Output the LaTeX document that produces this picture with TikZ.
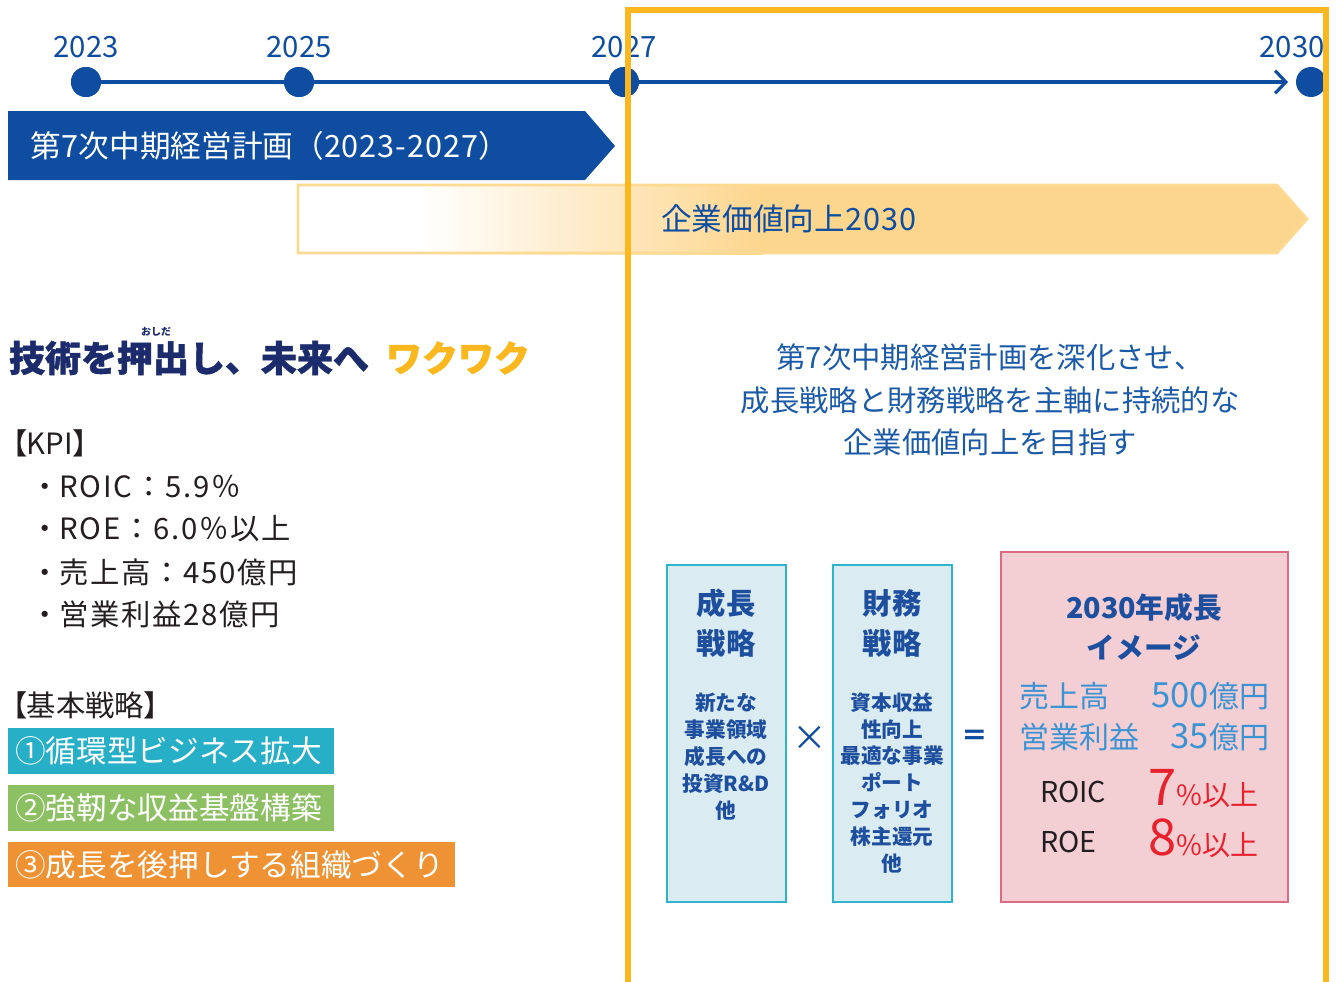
\documentclass[tikz,border=0pt]{standalone}
\usepackage{fontspec}
\setmainfont{Noto Sans CJK JP}
\usetikzlibrary{arrows.meta}
\definecolor{navy}{HTML}{0E4DA0}
\definecolor{framegold}{HTML}{FBB81E}
\definecolor{bgold}{HTML}{FDD68E}
\definecolor{bbord}{HTML}{FDDA92}
\definecolor{headnavy}{HTML}{1B2B6B}
\definecolor{txtgray}{HTML}{231F20}
\definecolor{pblue}{HTML}{1B5AA7}
\definecolor{stteal}{HTML}{27AFC7}
\definecolor{stgreen}{HTML}{8CC063}
\definecolor{storange}{HTML}{EE9234}
\definecolor{lbfill}{HTML}{DAEBF1}
\definecolor{lbbord}{HTML}{2CB4CB}
\definecolor{pkfill}{HTML}{F3CFD4}
\definecolor{pkbord}{HTML}{DD6B83}
\definecolor{ltxt}{HTML}{3C93D3}
\definecolor{kred}{HTML}{E8222C}
\definecolor{btitle}{HTML}{1E4F9F}
\newcommand\fsz[2]{\fontsize{#1}{#2}\selectfont}
\newcommand\paltfeat{\addfontfeatures{RawFeature=+palt}}
\newcommand\spaced{\addfontfeatures{LetterSpace=6}}
\newcommand\heavy{\addfontfeatures{FakeBold=1.2}}
\newcommand\bigdig[1]{{\fontsize{26pt}{28pt}\selectfont #1}}
\begin{document}
\begin{tikzpicture}[x=0.75pt,y=-0.75pt,
  tx/.style={inner sep=0pt, outer sep=0pt},
  yr/.style={tx, text=navy, font={\fsz{22pt}{26pt}}},
  tdot/.style={circle, fill=navy, minimum size=22.5pt, inner sep=0pt},
  kpi/.style={tx, anchor=west, text=txtgray, font={\fsz{22pt}{26pt}}},
  strat/.style={tx, anchor=west, text=white, font={\fsz{23pt}{26pt}}},
  btit/.style={tx, align=center, text=btitle, font={\bfseries\fsz{22pt}{30pt}}},
  bbody/.style={tx, align=center, text=btitle, font={\bfseries\fsz{15.5pt}{20.2pt}}},
  ctxt/.style={tx, text=ltxt, font={\fsz{22.5pt}{26pt}}},
  ktxt/.style={tx, text=txtgray, font={\fsz{21.5pt}{24pt}}},
  redv/.style={tx, anchor=base east, text=kred, font={\fsz{21pt}{24pt}}},
  headf/.style={tx, anchor=west, font={\bfseries\heavy\fsz{27pt}{30pt}}},
]
\useasboundingbox (0,0) rectangle (1337,981);

% timeline
\node[tdot] (d2023) at (86,82) {};
\node[tdot] (d2025) at (299,82) {};
\node[tdot] (d2027) at (624,82) {};
\node[tdot] (d2030) at (1311,82) {};
\coordinate (tend) at (1288,82);
\draw[navy, line width=2.4pt, -{Straight Barb[length=8pt,width=17pt,line width=2.4pt]}] (d2023.center) -- (tend);
\node[tdot] at (d2023) {};
\node[tdot] at (d2025) {};
\node[tdot] at (d2027) {};
\node[yr] (l2023) at (86,47) {2023};
\node[yr] (l2025) at (299,47) {2025};
\node[yr] (l2027) at (624,47) {2027};
\node[yr] (l2030) at (1292,47) {2030};

% blue banner
\fill[navy] (8,111) -- (585,111) -- (615,146) -- (585,180) -- (8,180) -- cycle;
\node[tx, anchor=west, text=white, font={\fsz{23pt}{26pt}}] (plan) at (31,146) {第7次中期経営計画（{\addfontfeatures{LetterSpace=3}2023-2027}）};

% gold banner
\fill[white] (297,184) rectangle (422,254);
\shade[left color=white, right color=bgold] (420,184) rectangle (762,254);
\fill[bgold] (760,184) -- (1277,184) -- (1308,219) -- (1277,254) -- (760,254) -- cycle;
\draw[bbord, line width=2pt, line join=miter] (298,185) -- (1277,185) -- (1307,219) -- (1277,253) -- (298,253) -- cycle;
\node[tx, anchor=west, text=navy, font={\fsz{23pt}{26pt}}] (vision) at (661,219) {企業価値向上{\addfontfeatures{LetterSpace=4}2030}};

% heading
\node[headf, text=headnavy] (head) at (9,358) {技術を押出し、未来へ};
\node[headf, text=framegold] (waku) at (386,358) {ワクワク};
\node[tx, text=headnavy, font={\bfseries\fsz{7.5pt}{9pt}}] (ruby) at (156,332) {おしだ};

% KPI
\node[kpi] (kpih) at (12,443) {\paltfeat 【KPI】};
\node[kpi] (k1) at (30,487) {・{\spaced ROIC：5.9％}};
\node[kpi] (k2) at (30,529) {・{\spaced ROE：6.0％以上}};
\node[kpi] (k3) at (30,572) {・{\spaced 売上高：450億円}};
\node[kpi] (k4) at (30,614) {・{\spaced 営業利益28億円}};

% basic strategy
\node[kpi] (sth) at (12,705) {\paltfeat 【基本戦略】};
\fill[stteal] (8,728) rectangle (334,774);
\node[strat] (s1) at (15,751) {①循環型ビジネス拡大};
\fill[stgreen] (8,785) rectangle (334,831);
\node[strat] (s2) at (15,808) {②強靭な収益基盤構築};
\fill[storange] (8,842) rectangle (455,887);
\node[strat] (s3) at (15,865) {③成長を後押しする組織づくり};

% right paragraph
\node[tx, align=center, text=pblue, font={\fsz{22pt}{32pt}}] (para) at (990,400) {第7次中期経営計画を深化させ、\\成長戦略と財務戦略を主軸に持続的な\\企業価値向上を目指す};

% box A
\draw[fill=lbfill, draw=lbbord, line width=1.5pt] (667,565) rectangle (786,902);
\node[btit] (at) at (726,623) {成長\\戦略};
\node[bbody] (ab) at (726,757) {新たな\\事業領域\\成長への\\投資R\&D\\他};
% box B
\draw[fill=lbfill, draw=lbbord, line width=1.5pt] (833,565) rectangle (952,902);
\node[btit] (bt) at (892,623) {財務\\戦略};
\node[bbody] (bb) at (892,783) {資本収益\\性向上\\最適な事業\\ポート\\フォリオ\\株主還元\\他};
% operators
\node[tx, text=navy, font={\fsz{26pt}{28pt}}] (times) at (810,738) {×};
\node[tx, text=navy, font={\bfseries\fsz{20pt}{26pt}}] (eq) at (975,738) {＝};
% box C
\draw[fill=pkfill, draw=pkbord, line width=2.2pt] (1001,552) rectangle (1288,902);
\node[tx, align=center, text=btitle, font={\bfseries\fsz{21.5pt}{30pt}}] (ct) at (1144,627) {2030年成長\\イメージ};
\node[ctxt, anchor=base west] (c1) at (1019,707) {売上高};
\node[ctxt, anchor=base east] (c1v) at (1269,707) {\bigdig{500}億円};
\node[ctxt, anchor=base west] (c2) at (1019,748) {営業利益};
\node[ctxt, anchor=base east] (c2v) at (1269,748) {\bigdig{35}億円};
\node[ktxt, anchor=base west] (c3) at (1040,802) {ROIC};
\node[redv] (c3v) at (1258,805) {{\fsz{38pt}{40pt}7}\%以上};
\node[ktxt, anchor=base west] (c4) at (1040,852) {ROE};
\node[redv] (c4v) at (1258,855) {{\fsz{38pt}{40pt}8}\%以上};

% frame
\draw[framegold, line width=4.5pt, line join=miter] (628,990) -- (628,10) -- (1326,10) -- (1326,990);
\end{tikzpicture}
\end{document}
